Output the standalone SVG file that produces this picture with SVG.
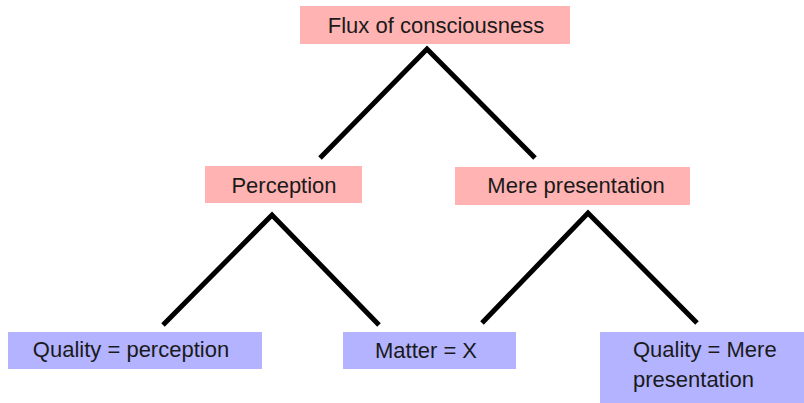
<svg xmlns="http://www.w3.org/2000/svg" width="804" height="403" viewBox="0 0 804 403">
<style>
.pink{fill:#FFB3B3}
.blue{fill:#B3B3FF}
.t{font-family:"Liberation Sans",Arial,sans-serif;font-size:22px;fill:#1a1a1a}
.m{text-anchor:middle}
.c{stroke:#000;stroke-width:5;fill:none;stroke-linejoin:miter}
</style>
<rect width="804" height="403" fill="#fff"/>
<g id="connectors">
<polyline class="c" points="320,158 427,49 535,158"/>
<polyline class="c" points="163,325 272,215 379,325"/>
<polyline class="c" points="482,323 588,213 697,323"/>
</g>
<g id="flux">
<rect class="pink" x="300" y="6" width="270" height="38"/>
<text class="t m" x="436" y="33">Flux of consciousness</text>
</g>
<g id="perception">
<rect class="pink" x="205" y="166" width="157" height="37"/>
<text class="t m" x="284" y="193">Perception</text>
</g>
<g id="mere">
<rect class="pink" x="455" y="167" width="235" height="38"/>
<text class="t m" x="576" y="193">Mere presentation</text>
</g>
<g id="qperc">
<rect class="blue" x="8" y="332" width="254" height="37"/>
<text class="t m" x="131" y="357">Quality = perception</text>
</g>
<g id="matter">
<rect class="blue" x="343" y="332" width="173" height="37"/>
<text class="t m" x="426" y="358">Matter = X</text>
</g>
<g id="qmere">
<rect class="blue" x="600" y="332" width="204" height="71"/>
<text class="t" x="633" y="357">Quality = Mere</text>
<text class="t" x="633" y="387">presentation</text>
</g>
</svg>
